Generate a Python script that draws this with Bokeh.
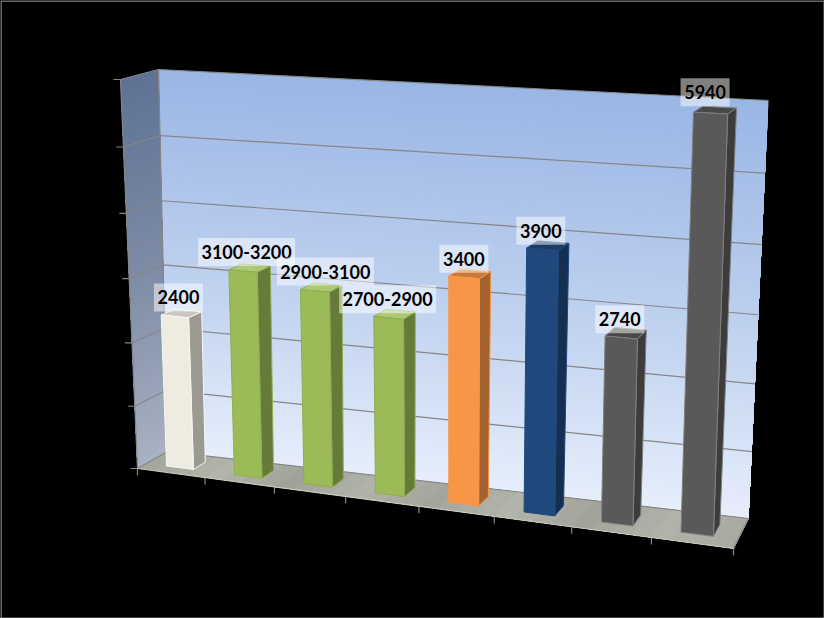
import numpy as np
from bokeh.plotting import figure
from bokeh.models import Range1d
from bokeh.core.properties import value
from bokeh.embed import file_html
from bokeh.resources import INLINE

# ---- chart data ----
labels = ["2400", "3100-3200", "2900-3100", "2700-2900", "3400", "3900", "2740", "5940"]
values = [2400, 3200, 3000, 2700, 3400, 3900, 2740, 5940]
axis_ticks = [0, 1000, 2000, 3000, 4000, 5000, 6000]
front_colors = ["#EEECE1", "#9BBB59", "#9BBB59", "#9BBB59", "#F79646", "#1F497D", "#595959", "#595959"]
side_colors = ["#9B9A92", "#667A3A", "#667A3A", "#667A3A", "#A3622E", "#142F52", "#3C3C3C", "#3C3C3C"]
top_colors = ["#C9C7BE", "#AEC878", "#AEC878", "#AEC878", "#C97A3A", "#1A3C66", "#484848", "#484848"]
edge_colors = ["#F8F7F0", "#8FAE50", "#8FAE50", "#8FAE50", "#F79646", "#1F497D", "#7F7F7F", "#7F7F7F"]
label_dx = [-3, -3, 4, -7, -6, -7, -6, -10]
label_dy = [-16, -16, -16, -15, -15, -15, -14, -18]
label_box_w = [49, 97, 97, 97, 49, 49, 49, 49]

# ---- projection of the 3-D box on the page ----
N = len(values)
VMAX = axis_ticks[-1]
front_plane = [(137, 468), (733, 548), (747, 115), (120, 79)]
back_plane = [(167, 451), (748, 518), (768, 100), (158, 69)]


def homography(corners):
    src = [(0, 0), (1, 0), (1, 1), (0, 1)]
    A, b = [], []
    for (s, t), (x, y) in zip(src, corners):
        A.append([s, t, 1, 0, 0, 0, -s * x, -t * x]); b.append(x)
        A.append([0, 0, 0, s, t, 1, -s * y, -t * y]); b.append(y)
    h = np.linalg.solve(np.array(A, float), np.array(b, float))
    return np.append(h, 1).reshape(3, 3)


HF, HB = homography(front_plane), homography(back_plane)


def proj(u, v, w):
    q = np.array([u / N, v / VMAX, 1.0])
    f, b = HF @ q, HB @ q
    f, b = f[:2] / f[2], b[:2] / b[2]
    return tuple(f + (b - f) * w)


def poly(points):
    xy = [proj(*pt) for pt in points]
    return [a for a, _ in xy], [c for _, c in xy]


def mix(a, b, t):
    ca = [int(a[i:i + 2], 16) for i in (1, 3, 5)]
    cb = [int(b[i:i + 2], 16) for i in (1, 3, 5)]
    return "#%02x%02x%02x" % tuple(round(x + (y - x) * t) for x, y in zip(ca, cb))


p = figure(width=824, height=618, x_range=Range1d(0, 824), y_range=Range1d(618, 0),
           output_backend="svg", toolbar_location=None, min_border=0,
           background_fill_color="#000000", border_fill_color="#000000", outline_line_color=None)
p.xaxis.visible = False
p.yaxis.visible = False
p.grid.visible = False

# walls and floor: each strip runs to the far end and is painted over by the next, so no seams show
xs, ys, cs = [], [], []
STRIPS = 96
wall_stops = ["#9AB6E5", "#BCCFEE", "#E6EEFB"]
side_stops = ["#5E7294", "#7E8CA6", "#A9B2C2"]
for k in range(STRIPS - 1, -1, -1):
    v1 = VMAX * (k + 1) / STRIPS
    t = 1 - (k + .5) / STRIPS
    a, c = poly([(0, 0, 1), (N, 0, 1), (N, v1, 1), (0, v1, 1)])
    col = mix(wall_stops[0], wall_stops[1], t * 2) if t < .5 else mix(wall_stops[1], wall_stops[2], t * 2 - 1)
    xs.append(a); ys.append(c); cs.append(col)
for k in range(STRIPS - 1, -1, -1):
    v1 = VMAX * (k + 1) / STRIPS
    t = 1 - (k + .5) / STRIPS
    a, c = poly([(0, 0, 0), (0, 0, 1), (0, v1, 1), (0, v1, 0)])
    col = mix(side_stops[0], side_stops[1], t * 2) if t < .5 else mix(side_stops[1], side_stops[2], t * 2 - 1)
    xs.append(a); ys.append(c); cs.append(col)
floor_band = ["#A5A89E", "#B3B5AC", "#9FA298", "#B1B3AA", "#A3A69C", "#B3B5AC", "#A1A49A", "#B1B3AA"]
for k in range(N * 4):
    u0 = k / 4
    c0 = floor_band[k // 4]
    c1 = floor_band[(k // 4 + 1) % N]
    a, c = poly([(u0, 0, 0), (N, 0, 0), (N, 0, 1), (u0, 0, 1)])
    xs.append(a); ys.append(c); cs.append(mix(c0, c1, (k % 4) / 4))
p.patches(xs, ys, fill_color=cs, line_color=None)

# wall outlines, gridlines, ticks
gx, gy = [], []
for v in axis_ticks:
    a, c = poly([(0, v, 0), (0, v, 1), (N, v, 1)])
    gx.append(a); gy.append(c)
    x0, y0 = proj(0, v, 0)
    gx.append([x0 - 7, x0]); gy.append([y0, y0])
for k in range(N + 1):
    x0, y0 = proj(k, 0, 0)
    gx.append([x0, x0]); gy.append([y0, y0 + 7])
a, c = poly([(0, 0, 0), (0, VMAX, 0)]); gx.append(a); gy.append(c)
a, c = poly([(0, 0, 1), (0, VMAX, 1)]); gx.append(a); gy.append(c)
a, c = poly([(N, 0, 0), (N, 0, 1)]); gx.append(a); gy.append(c)
p.multi_line(gx, gy, line_color="#868686", line_width=1.2)
a, c = poly([(0, 0, 0), (N, 0, 0)])
p.line(a, c, line_color="#C4C7BA", line_width=1.2)

# bars
GAP = .3
W0, W1 = .3, .7
for i, val in enumerate(values):
    u0, u1 = i + GAP, i + 1 - GAP
    faces = [
        ([(u0, val, W0), (u1, val, W0), (u1, val, W1), (u0, val, W1)], top_colors[i]),
        ([(u1, 0, W0), (u1, 0, W1), (u1, val, W1), (u1, val, W0)], side_colors[i]),
        ([(u0, 0, W0), (u1, 0, W0), (u1, val, W0), (u0, val, W0)], front_colors[i]),
    ]
    for pts, col in faces:
        a, c = poly(pts)
        p.patch(a, c, fill_color=col, line_color=edge_colors[i], line_width=1)

# data labels: a later box veils the text of the one before it
for i, val in enumerate(values):
    x0, y0 = proj(i + .5, val, .5)
    x0, y0 = x0 + label_dx[i], y0 + label_dy[i]
    p.rect([x0], [y0], width=[label_box_w[i]], height=[28], fill_color="#FFFFFF", fill_alpha=.5,
           line_color=None)
    p.text([x0], [y0], text=[labels[i]], text_font=value("Lato"), text_font_style="bold",
           text_font_size="18px", text_color="#000000", text_align="center", text_baseline="middle")

# frame of the picture
p.segment([0, 0], [0, 0], [824, 0], [0, 618], line_color="#666666", line_width=3)
p.segment([0, 823.5], [617.5, 0], [824, 823.5], [617.5, 618], line_color="#8A8A8A", line_width=1)

html = file_html(p, INLINE).replace("<head>", "<head><style>html,body{background:#000;overflow:hidden}</style>", 1)
open("out.html", "w").write(html)
